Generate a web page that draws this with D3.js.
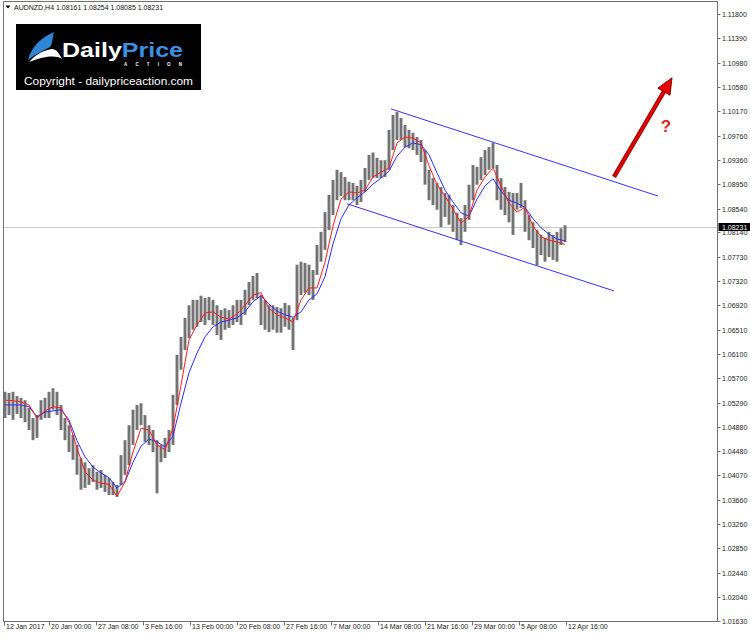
<!DOCTYPE html>
<html><head><meta charset="utf-8">
<script src="https://cdn.jsdelivr.net/npm/d3@7/dist/d3.min.js"></script>
<style>body{margin:0;background:#fff}svg{display:block}</style>
</head><body><svg id="c" width="750" height="638"></svg>
<script>
// ---------- data ----------
const symbol = "AUDNZD,H4";
const headerOHLC = ["1.08161", "1.08254", "1.08085", "1.08231"];
const lastPrice = 1.08231;

// bar highs / lows (one slot per group of H4 bars)
const highs = [1.0547,1.0545,1.0547,1.0540,1.0537,1.0533,1.0520,1.0503,1.0508,1.0533,
1.0537,1.0547,1.0553,1.0547,1.0525,1.0503,1.0491,1.0475,1.0458,1.0436,
1.0429,1.0419,1.0424,1.0413,1.0416,1.0408,1.0403,1.0396,1.0391,1.0441,
1.0466,1.0491,1.0517,1.0525,1.0528,1.0508,1.0491,1.0483,1.0466,1.0458,
1.0470,1.0483,1.0542,1.0609,1.0639,1.0671,1.0692,1.0701,1.0701,1.0708,
1.0704,1.0706,1.0701,1.0692,1.0684,1.0687,1.0684,1.0692,1.0701,1.0701,
1.0718,1.0731,1.0741,1.0746,1.0709,1.0701,1.0692,1.0692,1.0689,1.0687,
1.0696,1.0692,1.0671,1.0760,1.0765,1.0763,1.0760,1.0751,1.0793,1.0815,
1.0848,1.0877,1.0902,1.0919,1.0915,1.0907,1.0899,1.0897,1.0892,1.0902,
1.0922,1.0944,1.0948,1.0939,1.0935,1.0935,1.0986,1.1011,1.1016,1.1006,
1.0994,1.0986,1.0981,1.0974,1.0969,1.0952,1.0919,1.0905,1.0897,1.0890,
1.0880,1.0877,1.0860,1.0847,1.0838,1.0860,1.0894,1.0927,1.0924,1.0940,
1.0952,1.0957,1.0964,1.0927,1.0905,1.0890,1.0882,1.0880,1.0880,1.0897,
1.0868,1.0843,1.0831,1.0818,1.0810,1.0805,1.0815,1.0810,1.0815,1.0821,
1.0826];
const lows = [1.0503,1.0508,1.0500,1.0510,1.0503,1.0496,1.0483,1.0466,1.0470,1.0500,
1.0503,1.0503,1.0517,1.0508,1.0483,1.0466,1.0446,1.0433,1.0408,1.0383,
1.0386,1.0391,1.0396,1.0383,1.0386,1.0379,1.0374,1.0374,1.0371,1.0391,
1.0408,1.0424,1.0458,1.0483,1.0491,1.0463,1.0458,1.0446,1.0377,1.0429,
1.0436,1.0446,1.0458,1.0525,1.0584,1.0617,1.0637,1.0651,1.0656,1.0664,
1.0659,1.0667,1.0659,1.0642,1.0634,1.0651,1.0654,1.0659,1.0664,1.0659,
1.0676,1.0692,1.0701,1.0704,1.0659,1.0651,1.0647,1.0651,1.0646,1.0646,
1.0656,1.0651,1.0617,1.0667,1.0709,1.0713,1.0709,1.0701,1.0743,1.0765,
1.0785,1.0818,1.0843,1.0868,1.0875,1.0868,1.0868,1.0868,1.0860,1.0865,
1.0882,1.0902,1.0905,1.0905,1.0905,1.0907,1.0919,1.0952,1.0969,1.0969,
1.0957,1.0955,1.0952,1.0944,1.0932,1.0894,1.0868,1.0860,1.0852,1.0823,
1.0840,1.0827,1.0815,1.0801,1.0793,1.0815,1.0835,1.0868,1.0894,1.0902,
1.0910,1.0919,1.0922,1.0868,1.0852,1.0843,1.0831,1.0810,1.0852,1.0855,
1.0815,1.0801,1.0788,1.0759,1.0776,1.0765,1.0773,1.0768,1.0765,1.0793,
1.0798];

// moving averages, one value every maStep slots
const maStep = 2;
const maFast = [1.0533,1.0532,1.0530,1.0525,1.0503,1.0515,1.0522,1.0520,1.0496,1.0453,
1.0413,1.0399,1.0394,1.0392,1.0372,1.0396,1.0446,1.0486,1.0483,1.0458,
1.0450,1.0486,1.0558,1.0634,1.0659,1.0679,1.0681,1.0672,1.0669,1.0677,
1.0692,1.0709,1.0713,1.0687,1.0676,1.0671,1.0664,1.0701,1.0721,1.0721,
1.0764,1.0825,1.0870,1.0882,1.0880,1.0885,1.0907,1.0915,1.0922,1.0964,
1.0974,1.0972,1.0964,1.0926,1.0894,1.0875,1.0853,1.0830,1.0841,1.0885,
1.0907,1.0922,1.0892,1.0863,1.0848,1.0856,1.0825,1.0807,1.0801,1.0798,
1.0794];
const maSlow = [1.0525,1.0525,1.0525,1.0522,1.0505,1.0513,1.0515,1.0517,1.0500,1.0465,
1.0438,1.0421,1.0411,1.0403,1.0386,1.0396,1.0429,1.0456,1.0468,1.0463,
1.0455,1.0473,1.0528,1.0579,1.0612,1.0639,1.0656,1.0664,1.0667,1.0671,
1.0681,1.0698,1.0708,1.0694,1.0682,1.0676,1.0672,1.0681,1.0701,1.0711,
1.0740,1.0795,1.0837,1.0860,1.0872,1.0882,1.0895,1.0905,1.0917,1.0942,
1.0957,1.0964,1.0961,1.0944,1.0914,1.0885,1.0865,1.0847,1.0841,1.0870,
1.0892,1.0904,1.0883,1.0868,1.0863,1.0856,1.0837,1.0822,1.0811,1.0803,
1.0800];

// price axis labels
const yTicks = [1.11800,1.11390,1.10980,1.10580,1.10170,1.09760,1.09360,1.08950,1.08540,1.08140,
1.07730,1.07320,1.06920,1.06510,1.06100,1.05700,1.05290,1.04880,1.04480,1.04070,
1.03660,1.03260,1.02850,1.02440,1.02040,1.01630];
// time axis labels and their slot positions
const xTickLabels = ["12 Jan 2017","20 Jan 00:00","27 Jan 08:00","3 Feb 16:00","13 Feb 00:00","20 Feb 08:00",
"27 Feb 16:00","7 Mar 00:00","14 Mar 08:00","21 Mar 16:00","29 Mar 00:00","5 Apr 08:00","12 Apr 16:00"];
const xTickSlots = [-0.375,11,22.75,34.5,46.25,58,69.75,81.5,93.25,105,116.75,128.5,140.25];

// drawn objects: [slot, price]
const upperChannel = [[96.5,1.1021],[163.25,1.0875]];
const lowerChannel = [[85.5,1.0862],[152.25,1.0716]];
const arrowPts = [[152.25,1.0907],[166.75,1.1073]];
const questionMark = [165.25,1.0991];

// ---------- drawing ----------
const svg = d3.select("#c");
const L = 3.5, R = 717.5, T = 1.5, B = 621.5;
const x = d3.scaleLinear().domain([0,140]).range([5,565]);
const y = d3.scaleLinear().domain([1.01630,1.11800]).range([621,14]);
const font = "Tahoma, 'Liberation Sans', Arial, sans-serif";

// current price line
svg.append("line").attr("x1",L).attr("x2",R).attr("y1",Math.round(y(lastPrice))+0.5).attr("y2",Math.round(y(lastPrice))+0.5)
  .attr("stroke","#c8c8c8").attr("stroke-width",1);

// bars
svg.append("g").selectAll("line").data(highs).join("line")
  .attr("x1",(d,i)=>x(i)).attr("x2",(d,i)=>x(i))
  .attr("y1",d=>y(d)).attr("y2",(d,i)=>y(lows[i]))
  .attr("stroke","#737373").attr("stroke-width",2.9);

// moving averages
const maLine = d3.line().x((d,i)=>x(i*maStep)).y(d=>y(d));
svg.append("path").datum(maSlow).attr("d",maLine).attr("fill","none").attr("stroke","#2b2bff").attr("stroke-width",1);
svg.append("path").datum(maFast).attr("d",maLine).attr("fill","none").attr("stroke","#ff1a1a").attr("stroke-width",1);

// channel
const tl = d3.line().x(d=>x(d[0])).y(d=>y(d[1]));
[upperChannel, lowerChannel].forEach(c=>{
  svg.append("path").datum(c).attr("d",tl).attr("fill","none").attr("stroke","#3333ff").attr("stroke-width",1);
});

// arrow
{
  const x0 = x(arrowPts[0][0]), y0 = y(arrowPts[0][1]);
  const x1 = x(arrowPts[1][0]), y1 = y(arrowPts[1][1]);
  const dx = x1-x0, dy = y1-y0, len = Math.hypot(dx,dy);
  const ux = dx/len, uy = dy/len, px = -uy, py = ux;
  const hl = 16, hw = 7;
  const bx = x1-ux*hl, by = y1-uy*hl;
  svg.append("line").attr("x1",x0).attr("y1",y0).attr("x2",bx+ux*2).attr("y2",by+uy*2)
    .attr("stroke","#8a0000").attr("stroke-width",4.4);
  svg.append("line").attr("x1",x0+ux*0.8).attr("y1",y0+uy*0.8).attr("x2",bx+ux*2).attr("y2",by+uy*2)
    .attr("stroke","#e60000").attr("stroke-width",2.6);
  svg.append("polygon")
    .attr("points",[[x1,y1],[bx+px*hw,by+py*hw],[bx-px*hw,by-py*hw]].map(p=>p.join(",")).join(" "))
    .attr("fill","#e60000").attr("stroke","#8a0000").attr("stroke-width",1);
}
svg.append("text").attr("x",x(questionMark[0])).attr("y",y(questionMark[1]))
  .attr("text-anchor","middle").attr("dominant-baseline","central")
  .attr("font-family","'Liberation Sans', Arial, sans-serif").attr("font-weight","bold").attr("font-size",17)
  .attr("fill","#e32222").text("?");

// frame
svg.append("path").attr("d",`M${L},${T}H${R}V${B}H${L}Z`).attr("fill","none").attr("stroke","#707070").attr("stroke-width",1);

// price axis
const ya = svg.append("g");
yTicks.forEach(v=>{
  const yy = Math.round(y(v))+0.5;
  ya.append("line").attr("x1",R).attr("x2",R+3).attr("y1",yy).attr("y2",yy).attr("stroke","#707070");
  ya.append("text").attr("x",722).attr("y",yy).attr("dominant-baseline","central")
    .attr("font-family",font).attr("font-size",7).attr("fill","#222").text(v.toFixed(5));
});
// last price label
{
  const yy = y(lastPrice);
  svg.append("rect").attr("x",R+1).attr("y",yy-4).attr("width",32).attr("height",8).attr("fill","#000");
  svg.append("text").attr("x",722).attr("y",yy).attr("dominant-baseline","central")
    .attr("font-family",font).attr("font-size",7).attr("fill","#fff").text(lastPrice.toFixed(5));
}

// time axis
const xa = svg.append("g");
xTickLabels.forEach((lab,i)=>{
  const xx = Math.round(x(xTickSlots[i]))+0.5;
  xa.append("line").attr("x1",xx).attr("x2",xx).attr("y1",B).attr("y2",B+4).attr("stroke","#707070");
  xa.append("text").attr("x",xx+1.5).attr("y",629)
    .attr("font-family",font).attr("font-size",7).attr("fill","#222").text(lab);
});

// header
svg.append("path").attr("d","M5.5,5.5 L10.5,5.5 L8,8.5 Z").attr("fill","#000");
svg.append("text").attr("x",14).attr("y",10).attr("font-family",font).attr("font-size",7).attr("fill","#111")
  .text(symbol+"  "+headerOHLC.join(" "));

// logo
const lg = svg.append("g");
lg.append("rect").attr("x",16).attr("y",24).attr("width",185).attr("height",66).attr("fill","#000");
lg.append("path").attr("d","M28,60 C31,48 40,38 54,32 C52,38 53,44 50,47 C44,50 36,54 28,60 Z").attr("fill","#2f86d6");
lg.append("path").attr("d","M29,62 C37,53 45,50 52,49 C56,49 59,53 62,59 C55,55 46,56 29,62 Z").attr("fill","#fff");
const t = lg.append("text").attr("x",62).attr("y",57).attr("font-family","'Liberation Sans', Arial, sans-serif")
  .attr("font-weight","bold").attr("font-size",21).attr("textLength",121).attr("lengthAdjust","spacingAndGlyphs");
t.append("tspan").attr("fill","#fff").text("Daily");
t.append("tspan").attr("fill","#3d8fe0").text("Price");
lg.append("text").attr("x",124).attr("y",66).attr("font-family","'Liberation Sans', Arial, sans-serif")
  .attr("font-weight","bold").attr("font-size",4.5).attr("fill","#fff").attr("textLength",58).text("ACTION");
lg.append("text").attr("x",24).attr("y",85).attr("font-family","'Liberation Sans', Arial, sans-serif")
  .attr("font-size",11.5).attr("fill","#fff").attr("textLength",169).attr("lengthAdjust","spacingAndGlyphs")
  .text("Copyright - dailypriceaction.com");
</script></body></html>
